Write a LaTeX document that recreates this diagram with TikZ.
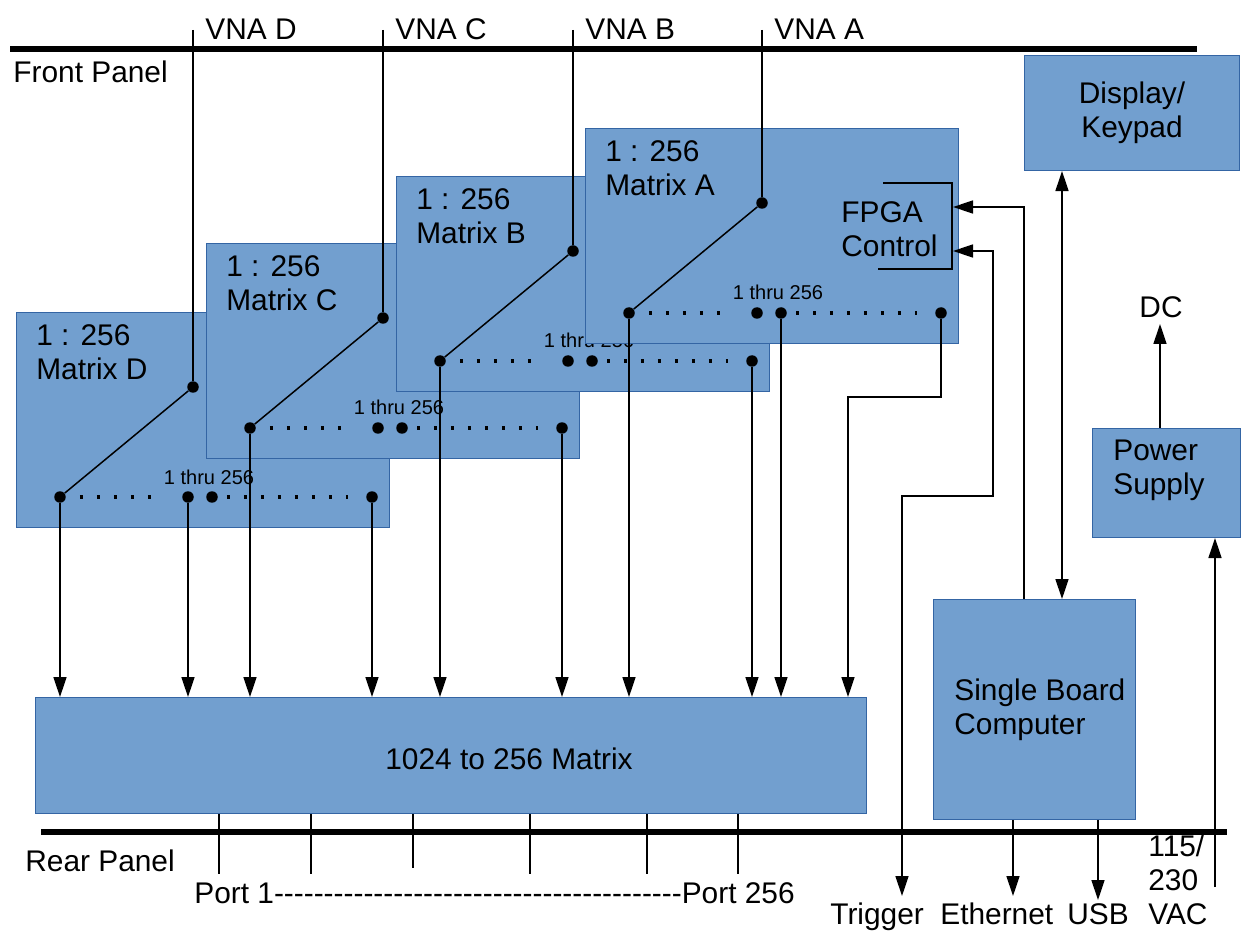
\documentclass[tikz,border=0pt]{standalone}
\usepackage{fontspec}
\setmainfont{Liberation Sans}
\newfontfamily\portfont{Liberation Sans}
\usetikzlibrary{arrows.meta, positioning, calc}
\definecolor{BoxBlue}{HTML}{729FCF}
\definecolor{BoxEdge}{HTML}{3465A4}
\tikzset{
    % Blocks
    block/.style={
        rectangle,
        draw=BoxEdge,
        fill=BoxBlue,
        line width=0.6pt,
        anchor=north west,
        inner sep=0pt,
        align=center,
        font=\fontsize{17}{19.5}\selectfont
    },
    matbox/.style={
        block,
        minimum width=7.46cm,
        minimum height=4.3cm
    },
    % Texts
    txt/.style={
        inner sep=0pt,
        anchor=base west,
        font=\fontsize{17}{19.5}\selectfont
    },
    smalltxt/.style={
        inner sep=0pt,
        anchor=base,
        font=\fontsize{11.4}{13}\selectfont
    },
    % Switch contacts
    contact/.style={
        circle,
        fill=black,
        inner sep=0pt,
        minimum size=0.23cm
    },
    dotrow/.style={
        line width=0.065cm,
        dash pattern=on 0.065cm off 0.275cm
    },
    % Lines and arrows
    wire/.style={
        line width=0.85pt,
        draw=black
    },
    arrow/.style={
        wire,
        -{Triangle[length=0.4cm, width=0.26cm]}
    },
    dblarrow/.style={
        wire,
        {Triangle[length=0.4cm, width=0.26cm]}-{Triangle[length=0.4cm, width=0.26cm]}
    },
    panel/.style={
        line width=0.12cm
    }
}

\begin{document}
\begin{tikzpicture}[x=0.02cm, y=-0.02cm]
    \useasboundingbox (0,0) rectangle (1241,932);

    % Front and rear panels
    \coordinate (frontL) at (10,49);
    \coordinate (frontR) at (1197,49);
    \coordinate (rearL) at (41,832);
    \coordinate (rearR) at (1227,832);
    \draw[panel] (frontL) -- (frontR);
    \draw[panel] (rearL) -- (rearR);
    \node[txt] (front) at (13,83) {Front Panel};
    \node[txt] (rear) at (25,871) {Rear Panel};

    % 1 : 256 matrices, back to front
    \foreach \m/\x/\y in {D/16/312, C/206/243, B/396/176, A/585/128} {
        \node[matbox] (mat\m) at (\x,\y) {};
        \node[txt] (ratio\m) at (\x+20,\y+34) {1 : 256};
        \node[txt] (name\m) at (\x+20,\y+68) {Matrix \m};
        \node[contact] (\m0) at (\x+44,\y+185) {};
        \node[contact] (\m1) at (\x+172,\y+185) {};
        \node[contact] (\m2) at (\x+196,\y+185) {};
        \node[contact] (\m3) at (\x+356,\y+185) {};
        \node[contact] (top\m) at (\x+177,\y+75) {};
        \draw[wire] (\m0) -- (top\m);
        \draw[dotrow, shorten <=0.4cm, shorten >=0.64cm] (\m0.center) -- (\m1.center);
        \draw[dotrow, shorten <=0.3cm, shorten >=0.48cm] (\m2.center) -- (\m3.center);
        \node[smalltxt] (thru\m) at (\x+193,\y+172) {1 thru 256};
        \coordinate (vna\m) at (\x+177,30);
        \node[txt] (vnalbl\m) at (\x+189,40) {VNA \m};
        \draw[wire] (vna\m) -- (top\m);
    }

    % FPGA control
    \draw[wire] (883,183) -- (952,183) -- (952,269) -- (878,269);
    \node[txt, anchor=west, align=left] (fpga) at (841,229) {FPGA\\Control};
    \coordinate (fpga1) at (953,207);
    \coordinate (fpga2) at (953,251);

    % 1024 to 256 matrix
    \node[block, minimum width=16.62cm, minimum height=2.32cm] (bigmat) at (35,697) {};
    \node[txt, anchor=base] (bigtxt) at (509,769) {1024 to 256 Matrix};

    \foreach \n in {D0,D1,D3,C0,C3,B0,B3,A0,A2}
        \draw[arrow] (\n) -- (\n |- bigmat.north);
    \coordinate (trigbend) at (848,397);
    \draw[arrow] (A3) |- (trigbend) -- (trigbend |- bigmat.north);

    % rear ports
    \foreach \p in {219,311,530,647,738} {
        \coordinate (port\p) at (\p,874);
        \draw[wire] (port\p |- bigmat.south) -- (port\p);
    }
    \coordinate (port413) at (413,868);
    \draw[wire] (port413 |- bigmat.south) -- (port413);
    \node[txt] (ports) at (194,903) {\portfont Port 1-----------------------------------------Port 256};

    % Single board computer, display, power
    \node[block, minimum width=4.04cm, minimum height=4.4cm] (sbc) at (933,599) {};
    \node[txt, anchor=west, align=left] (sbctxt) at ([xshift=0.42cm]sbc.west) {Single Board\\Computer};
    \node[block, minimum width=4.3cm, minimum height=2.3cm] (display) at (1024,55) {Display/\\Keypad};
    \node[block, minimum width=2.96cm, minimum height=2.18cm] (power) at (1092,428) {};
    \node[txt, anchor=west, align=left] (powtxt) at ([xshift=0.42cm, yshift=0.26cm]power.west) {Power\\Supply};

    \coordinate (ctl) at (1024,207);
    \draw[arrow] (ctl |- sbc.north) -- (ctl) -- (fpga1);
    \coordinate (trgup) at (993,496);
    \coordinate (trgout) at (902,896);
    \draw[dblarrow] (fpga2) -| (trgup) -| (trgout);
    \coordinate (kbus) at (1062,400);
    \draw[dblarrow] (kbus |- display.south) -- (kbus |- sbc.north);

    \coordinate (dcout) at (1160,324);
    \draw[arrow] (dcout |- power.north) -- (dcout);
    \node[txt, anchor=base] (dc) at (1161,318) {DC};
    \coordinate (mains) at (1215,887);
    \draw[arrow] (mains) -- (mains |- power.south);

    \coordinate (ethout) at (1013,896);
    \coordinate (usbout) at (1098,900);
    \draw[arrow] (ethout |- sbc.south) -- (ethout);
    \draw[arrow] (usbout |- sbc.south) -- (usbout);

    \node[txt] (trigger) at (830,924) {Trigger};
    \node[txt] (ethernet) at (940,924) {Ethernet};
    \node[txt] (usb) at (1067,924) {USB};
    \node[txt, anchor=west, align=left] (vac) at (1148,880) {115/\\230\\VAC};
\end{tikzpicture}
\end{document}
